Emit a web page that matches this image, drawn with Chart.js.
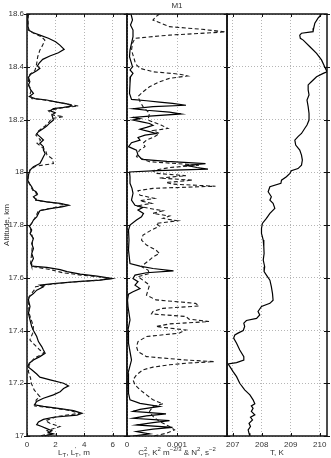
<!DOCTYPE html>
<html>
<head>
<meta charset="utf-8">
<script src="https://cdn.jsdelivr.net/npm/chart.js@4.4.0/dist/chart.umd.min.js"></script>
<style>
  html, body { margin: 0; padding: 0; background: #fff; }
  #wrap { position: relative; width: 331px; height: 458px; }
  canvas { position: absolute; left: 0; top: 0; }
</style>
</head>
<body>
<div id="wrap">
  <canvas id="c1" width="331" height="458"></canvas>
  <canvas id="c2" width="331" height="458"></canvas>
  <canvas id="c3" width="331" height="458"></canvas>
</div>
<script>
// tick labels
const altTicks = [17, 17.2, 17.4, 17.6, 17.8, 18, 18.2, 18.4, 18.6];
const ltTicks = [0, 2, 4, 6];
const ctTicks = [0, 0.001, 0.002];
const tTicks = [207, 208, 209, 210];

// L_T (solid)
const ltAlt = [18.600, 18.577, 18.552, 18.537, 18.529, 18.520, 18.508, 18.495, 18.482, 18.466, 18.453, 18.441, 18.428, 18.415, 18.403, 18.394, 18.385, 18.372, 18.360, 18.343, 18.331, 18.312, 18.299, 18.287, 18.279, 18.274, 18.266, 18.259, 18.251, 18.246, 18.241, 18.233, 18.226, 18.217, 18.208, 18.198, 18.188, 18.175, 18.166, 18.154, 18.145, 18.135, 18.122, 18.110, 18.097,
  18.084, 18.071, 18.059, 18.046, 18.033, 18.021, 18.008, 17.989, 17.970, 17.958, 17.945, 17.932, 17.926, 17.917, 17.907, 17.894, 17.888, 17.882, 17.875, 17.869, 17.862, 17.854, 17.844, 17.831, 17.819, 17.806, 17.796, 17.781, 17.768, 17.749, 17.730, 17.711, 17.692, 17.673, 17.654, 17.644, 17.639, 17.631, 17.623, 17.614, 17.606, 17.597, 17.591, 17.585, 17.578, 17.572, 17.566, 17.553, 17.540, 17.528,
  17.516, 17.491, 17.465, 17.440, 17.415, 17.400, 17.377, 17.358, 17.339, 17.326, 17.314, 17.301, 17.288, 17.276, 17.263, 17.251, 17.235, 17.223, 17.213, 17.200, 17.190, 17.180, 17.168, 17.156, 17.143, 17.131, 17.118, 17.112, 17.104, 17.096, 17.086, 17.079, 17.071, 17.063, 17.053, 17.043, 17.036, 17.028, 17.020, 17.013, 17.008, 17.000];
const ltVal = [0.10, 0.05, 0.07, 0.16, 0.45, 0.90, 1.50, 2.00, 2.30, 2.60, 2.20, 1.60, 1.10, 0.87, 0.73, 0.90, 0.68, 0.26, 0.10, 0.20, 0.10, 0.26, 0.45, 0.16, 0.56, 1.38, 2.09, 2.80, 3.15, 2.56, 1.85, 1.62, 1.97, 1.74, 1.80, 1.85, 1.62, 1.38, 1.15, 0.80, 0.68, 0.90, 1.15, 0.90, 1.15,
  1.15, 1.27, 1.15, 1.03, 0.90, 0.45, 0.21, 0.10, 0.05, 0.16, 0.33, 0.45, 0.63, 0.73, 0.45, 0.68, 1.38, 2.32, 2.91, 2.44, 1.62, 0.90, 0.80, 0.68, 0.45, 0.33, 0.16, 0.33, 0.21, 0.45, 0.33, 0.45, 0.33, 0.45, 0.28, 0.33, 1.38, 2.32, 2.80, 3.73, 4.90, 5.96, 5.14, 3.50, 1.85, 0.90, 1.15, 0.68, 0.45, 0.16,
  0.10, 0.21, 0.10, 0.21, 0.33, 0.45, 0.68, 0.80, 1.03, 1.15, 1.27, 0.90, 0.45, 0.16, 0.05, 0.33, 0.68, 0.90, 1.62, 2.56, 2.91, 2.56, 2.32, 1.85, 1.15, 0.68, 0.52, 1.15, 2.32, 3.26, 3.85, 3.50, 1.85, 1.15, 0.80, 0.68, 1.03, 1.38, 1.74, 1.50, 1.85, 1.15];

// L_T' (dashed)
const lt2Alt = [18.600, 18.539, 18.529, 18.514, 18.501, 18.482, 18.463, 18.438, 18.413, 18.400, 18.385, 18.372, 18.360, 18.331, 18.312, 18.293, 18.279, 18.274, 18.264, 18.251, 18.244, 18.233, 18.217, 18.211, 18.203, 18.191, 18.175, 18.154, 18.141, 18.122, 18.110, 18.097,
  18.084, 18.065, 18.052, 18.033, 18.023, 18.008, 17.970, 17.932, 17.917, 17.894, 17.882, 17.875, 17.867, 17.854, 17.831, 17.796, 17.749, 17.705, 17.654, 17.642, 17.629, 17.619, 17.610, 17.604, 17.596, 17.589, 17.581, 17.573, 17.566, 17.553, 17.528,
  17.516, 17.465, 17.415, 17.390, 17.364, 17.326, 17.314, 17.295, 17.270, 17.244, 17.219, 17.200, 17.175, 17.149, 17.137, 17.114, 17.099, 17.086, 17.074, 17.058, 17.048, 17.036, 17.020, 17.010, 17.000];
const lt2Val = [0.05, 0.10, 0.40, 1.00, 1.25, 1.10, 0.90, 0.75, 0.68, 0.63, 0.55, 0.22, 0.10, 0.12, 0.30, 0.20, 0.35, 1.20, 2.30, 3.60, 2.40, 1.50, 1.80, 2.55, 1.70, 1.55, 1.25, 0.75, 0.62, 0.95, 0.70, 1.00,
  1.30, 1.40, 1.75, 1.85, 0.60, 0.20, 0.05, 0.40, 0.70, 0.60, 2.10, 2.85, 2.00, 0.80, 0.60, 0.20, 0.40, 0.35, 0.25, 0.50, 1.80, 2.50, 3.80, 5.00, 5.80, 4.60, 2.60, 1.40, 0.60, 0.50, 0.15,
  0.08, 0.15, 0.45, 0.40, 0.20, 0.90, 1.20, 0.50, 0.15, 0.10, 0.25, 0.30, 0.50, 0.90, 0.65, 0.55, 2.80, 3.70, 2.10, 1.30, 1.60, 2.30, 1.40, 1.70, 0.90];

// C_T^2 (solid)
const ctAlt = [18.600, 18.577, 18.558, 18.539, 18.514, 18.489, 18.463, 18.438, 18.413, 18.400, 18.388, 18.375, 18.362, 18.337, 18.299, 18.276, 18.271, 18.266, 18.261, 18.254, 18.249, 18.241, 18.235, 18.228, 18.221, 18.213, 18.208, 18.203, 18.198, 18.190, 18.185, 18.178, 18.170, 18.163, 18.154, 18.147, 18.141, 18.132, 18.122, 18.112, 18.097,
  18.084, 18.065, 18.049, 18.041, 18.033, 18.026, 18.018, 18.012, 18.006, 18.001, 17.983, 17.958, 17.939, 17.920, 17.894, 17.875, 17.867, 17.857, 17.844, 17.831, 17.819, 17.800, 17.781, 17.743, 17.705, 17.654, 17.644, 17.635, 17.626, 17.619, 17.610, 17.597, 17.585, 17.572, 17.559, 17.547, 17.538, 17.515,
  17.491, 17.440, 17.402, 17.352, 17.288, 17.238, 17.162, 17.137, 17.124, 17.112, 17.101, 17.093, 17.084, 17.076, 17.067, 17.058, 17.051, 17.042, 17.033, 17.026, 17.017, 17.008, 17.000];
const ctVal = [0.00008, 0.00011, 0.00007, 0.00012, 0.00012, 0.00009, 0.00006, 0.00005, 0.00009, 0.00011, 0.00006, 0.00012, 0.00007, 0.00006, 0.00005, 0.00009, 0.00039, 0.00065, 0.00091, 0.00118, 0.00052, 0.00012, 0.00039, 0.00085, 0.00108, 0.00045, 0.00012, 0.00026, 0.00012, 0.00032, 0.00045, 0.00052, 0.00039, 0.00026, 0.00045, 0.00058, 0.00036, 0.00022, 0.00026, 0.00009, 0.00003,
  0.00019, 0.00022, 0.00030, 0.00080, 0.00157, 0.00118, 0.00140, 0.00162, 0.00060, 0.00005, 0.00006, 0.00006, 0.00010, 0.00012, 0.00009, 0.00016, 0.00032, 0.00022, 0.00033, 0.00029, 0.00019, 0.00006, 0.00003, 0.00004, 0.00003, 0.00006, 0.00026, 0.00052, 0.00093, 0.00039, 0.00016, 0.00012, 0.00022, 0.00016, 0.00026, 0.00012, 0.00003, 0.00001,
  0.00002, 0.00006, 0.00002, 0.00003, 0.00009, 0.00002, 0.00003, 0.00006, 0.00026, 0.00065, 0.00026, 0.00012, 0.00078, 0.00039, 0.00012, 0.00085, 0.00052, 0.00019, 0.00091, 0.00052, 0.00019, 0.00045, 0.00012];

// N^2 (dashed)
const n2Alt = [18.600, 18.590, 18.577, 18.565, 18.552, 18.542, 18.532, 18.520, 18.508, 18.489, 18.463, 18.438, 18.419, 18.407, 18.394, 18.381, 18.372, 18.365, 18.356, 18.343, 18.324, 18.305, 18.287, 18.268, 18.249, 18.223, 18.198, 18.179, 18.166, 18.158, 18.147, 18.135, 18.122, 18.110, 18.097,
  18.084, 18.059, 18.040, 18.027, 18.018, 18.006, 17.996, 17.987, 17.978, 17.970, 17.961, 17.955, 17.947, 17.939, 17.930, 17.913, 17.901, 17.892, 17.882, 17.872, 17.863, 17.854, 17.844, 17.834, 17.825, 17.816, 17.806, 17.796, 17.781, 17.762, 17.743, 17.724, 17.705, 17.692, 17.679, 17.667, 17.654, 17.642, 17.629, 17.616, 17.604, 17.585, 17.572, 17.553, 17.534,
  17.516, 17.503, 17.493, 17.484, 17.472, 17.463, 17.453, 17.443, 17.434, 17.425, 17.415, 17.402, 17.390, 17.377, 17.358, 17.339, 17.320, 17.301, 17.288, 17.282, 17.276, 17.270, 17.261, 17.251, 17.232, 17.213, 17.194, 17.175, 17.156, 17.137, 17.122, 17.112, 17.093, 17.074, 17.055, 17.036, 17.023, 17.010, 17.000];
const n2Val = [0.00065, 0.00058, 0.00052, 0.00068, 0.00085, 0.00150, 0.00197, 0.00085, 0.00016, 0.00011, 0.00009, 0.00013, 0.00016, 0.00019, 0.00026, 0.00052, 0.00105, 0.00121, 0.00085, 0.00065, 0.00045, 0.00032, 0.00022, 0.00026, 0.00032, 0.00045, 0.00042, 0.00068, 0.00082, 0.00052, 0.00065, 0.00055, 0.00039, 0.00032, 0.00036,
  0.00025, 0.00019, 0.00045, 0.00144, 0.00085, 0.00052, 0.00058, 0.00118, 0.00065, 0.00131, 0.00078, 0.00091, 0.00177, 0.00052, 0.00022, 0.00026, 0.00055, 0.00026, 0.00049, 0.00019, 0.00045, 0.00072, 0.00052, 0.00085, 0.00072, 0.00101, 0.00058, 0.00065, 0.00049, 0.00032, 0.00029, 0.00039, 0.00058, 0.00065, 0.00052, 0.00045, 0.00036, 0.00029, 0.00042, 0.00045, 0.00022, 0.00036, 0.00045, 0.00042, 0.00039,
  0.00058, 0.00137, 0.00144, 0.00072, 0.00052, 0.00049, 0.00118, 0.00124, 0.00164, 0.00085, 0.00058, 0.00118, 0.00104, 0.00039, 0.00022, 0.00019, 0.00022, 0.00039, 0.00118, 0.00174, 0.00118, 0.00085, 0.00052, 0.00032, 0.00019, 0.00012, 0.00016, 0.00026, 0.00039, 0.00052, 0.00072, 0.00052, 0.00045, 0.00052, 0.00065, 0.00085, 0.00095, 0.00078, 0.00052];

// T (solid)
const tAlt = [18.600, 18.584, 18.565, 18.546, 18.533, 18.527, 18.520, 18.508, 18.501, 18.476, 18.451, 18.426, 18.400, 18.381, 18.375, 18.362, 18.343, 18.331, 18.312, 18.293, 18.274, 18.249, 18.223, 18.198, 18.179, 18.166, 18.147, 18.135, 18.122, 18.103,
  18.084, 18.065, 18.046, 18.027, 18.014, 18.006, 17.996, 17.983, 17.970, 17.958, 17.945, 17.926, 17.907, 17.894, 17.882, 17.863, 17.844, 17.825, 17.806, 17.787, 17.768, 17.743, 17.717, 17.692, 17.667, 17.642, 17.623, 17.610, 17.591, 17.566, 17.540, 17.515,
  17.503, 17.491, 17.472, 17.459, 17.446, 17.438, 17.428, 17.415, 17.400, 17.390, 17.383, 17.371, 17.352, 17.326, 17.301, 17.288, 17.278, 17.273, 17.263, 17.244, 17.225, 17.200, 17.175, 17.156, 17.137, 17.122, 17.114, 17.105, 17.093, 17.080, 17.071, 17.061, 17.048, 17.036, 17.023, 17.010, 17.000];
const tVal = [210.06, 209.94, 209.83, 209.79, 209.77, 209.37, 209.31, 209.33, 209.43, 209.66, 209.89, 210.06, 210.17, 210.25, 210.12, 209.89, 209.71, 209.60, 209.60, 209.63, 209.56, 209.60, 209.63, 209.63, 209.56, 209.48, 209.37, 209.25, 209.14, 209.17,
  209.31, 209.37, 209.40, 209.37, 209.25, 209.02, 208.97, 208.85, 208.68, 208.66, 208.28, 208.22, 208.33, 208.28, 208.39, 208.45, 208.28, 208.16, 208.02, 207.99, 207.99, 208.05, 208.07, 208.08, 208.05, 208.10, 208.08, 208.16, 208.28, 208.33, 208.37, 208.39,
  208.28, 207.99, 207.87, 207.93, 207.82, 207.47, 207.38, 207.41, 207.36, 207.18, 207.07, 207.03, 207.13, 207.24, 207.38, 207.38, 207.13, 206.84, 206.90, 207.01, 207.13, 207.24, 207.41, 207.59, 207.70, 207.76, 207.64, 207.70, 207.64, 207.76, 207.61, 207.68, 207.56, 207.61, 207.53, 207.56, 207.59];

const FONT = 'Liberation Sans, Arial, sans-serif';
const TXT = '#333';

function toPoints(alts, vals) {
  return alts.map((a, i) => ({ x: vals[i], y: a }));
}

function line(alts, vals, dashed) {
  return {
    data: toPoints(alts, vals),
    showLine: true,
    borderColor: dashed ? '#1a1a1a' : '#000',
    borderWidth: dashed ? 1.1 : 1.2,
    borderDash: dashed ? [4, 2.5] : [],
    pointRadius: 0,
    tension: 0,
    fill: false
  };
}

// box around each panel plus inward tick marks (matlab look)
const framePlugin = {
  id: 'frame',
  afterDatasetsDraw(chart) {
    const { ctx, chartArea: a, scales } = chart;
    ctx.save();
    ctx.strokeStyle = '#111';
    ctx.lineWidth = 1;
    scales.x.ticks.forEach(t => {
      const px = Math.round(scales.x.getPixelForValue(t.value)) + 0.5;
      ctx.beginPath();
      ctx.moveTo(px, a.bottom); ctx.lineTo(px, a.bottom - 3);
      ctx.moveTo(px, a.top); ctx.lineTo(px, a.top + 3);
      ctx.stroke();
    });
    scales.y.ticks.forEach(t => {
      const py = Math.round(scales.y.getPixelForValue(t.value)) + 0.5;
      ctx.beginPath();
      ctx.moveTo(a.left - 3, py); ctx.lineTo(a.left + 3, py);
      ctx.moveTo(a.right - 3, py); ctx.lineTo(a.right + 3, py);
      ctx.stroke();
    });
    ctx.lineWidth = 1.5;
    ctx.strokeRect(a.left, a.top, a.right - a.left, a.bottom - a.top);
    ctx.restore();
  }
};

// x axis title with sub/superscripts
const richLabel = {
  id: 'richLabel',
  afterDraw(chart, args, opts) {
    if (!opts.parts) return;
    const { ctx, chartArea: a } = chart;
    const big = '8px ' + FONT, small = '6px ' + FONT;
    ctx.save();
    ctx.fillStyle = TXT;
    ctx.textBaseline = 'alphabetic';
    let w = 0;
    const widths = opts.parts.map(p => {
      ctx.font = big;
      const bw = ctx.measureText(p.b).width;
      ctx.font = small;
      const sw = Math.max(p.sub ? ctx.measureText(p.sub).width : 0, p.sup ? ctx.measureText(p.sup).width : 0);
      w += bw + sw;
      return [bw, sw];
    });
    let x = (a.left + a.right) / 2 - w / 2 + (opts.dx || 0);
    const y = opts.y;
    opts.parts.forEach((p, i) => {
      ctx.font = big;
      ctx.fillText(p.b, x, y);
      x += widths[i][0];
      ctx.font = small;
      if (p.sub) ctx.fillText(p.sub, x, y + 2);
      if (p.sup) ctx.fillText(p.sup, x, y - 4);
      x += widths[i][1];
    });
    ctx.restore();
  }
};

function fixTicks(values) {
  return scale => { scale.ticks = values.map(v => ({ value: v })); };
}

function makeChart(id, datasets, o) {
  return new Chart(document.getElementById(id), {
    type: 'scatter',
    data: { datasets },
    options: {
      responsive: false,
      animation: false,
      devicePixelRatio: 1,
      layout: { padding: o.padding },
      plugins: {
        legend: { display: false },
        tooltip: { enabled: false },
        title: o.title ? {
          display: true, text: o.title, color: TXT,
          font: { family: FONT, size: 8, weight: 'normal' },
          padding: { top: 0.5, bottom: 3.9 }
        } : { display: false },
        richLabel: { parts: o.label, y: 455, dx: o.labelDx || 0 }
      },
      scales: {
        x: {
          type: 'linear', position: 'bottom',
          min: o.xMin, max: o.xMax,
          afterBuildTicks: fixTicks(o.xTicks),
          afterFit: s => { s.height = 22; },
          grid: { color: '#b5b5b5', lineWidth: 1, drawTicks: false },
          border: { display: false, dash: [1, 2] },
          ticks: {
            color: TXT, padding: 4, autoSkip: false, maxRotation: 0,
            font: { family: FONT, size: 8 },
            callback: o.xFmt
          }
        },
        y: {
          type: 'linear', position: 'left',
          min: 17, max: 18.6,
          afterBuildTicks: fixTicks(altTicks),
          afterFit: s => { s.width = o.yAxis ? 27 : 0; },
          grid: { color: '#b5b5b5', lineWidth: 1, drawTicks: false },
          border: { display: false, dash: [1, 2] },
          ticks: {
            display: !!o.yAxis, color: TXT, padding: 3,
            font: { family: FONT, size: 8 },
            callback: v => String(+v.toFixed(1))
          },
          title: {
            display: !!o.yAxis, text: 'Altitude, km', color: TXT,
            font: { family: FONT, size: 8 },
            padding: { top: 2, bottom: 0 }
          }
        }
      }
    },
    plugins: [framePlugin, richLabel]
  });
}

makeChart('c1', [line(lt2Alt, lt2Val, true), line(ltAlt, ltVal, false)], {
  padding: { left: 0, right: 204, top: 14, bottom: 0 },
  yAxis: true,
  xMin: 0, xMax: 7, xTicks: ltTicks,
  xFmt: v => String(v),
  label: [{ b: 'L', sub: 'T' }, { b: ', L', sub: 'T', sup: "'" }, { b: ', m' }],
  labelDx: -3
});

makeChart('c2', [line(n2Alt, n2Val, true), line(ctAlt, ctVal, false)], {
  padding: { left: 127, right: 104, top: 0, bottom: 0 },
  title: 'M1',
  xMin: 0, xMax: 0.002, xTicks: ctTicks,
  xFmt: v => (v === 0 ? '0' : v < 0.0015 ? '0.001' : ''),
  label: [{ b: 'C', sub: 'T', sup: '2' }, { b: ', K', sup: '2' }, { b: ' m', sup: '\u22122/3' }, { b: ' & N', sup: '2' }, { b: ', s', sup: '\u22122' }]
});

makeChart('c3', [line(tAlt, tVal, false)], {
  padding: { left: 227, right: 4, top: 14, bottom: 0 },
  xMin: 206.8, xMax: 210.25, xTicks: tTicks,
  xFmt: v => String(v),
  label: [{ b: 'T, K' }]
});
</script>
</body>
</html>
